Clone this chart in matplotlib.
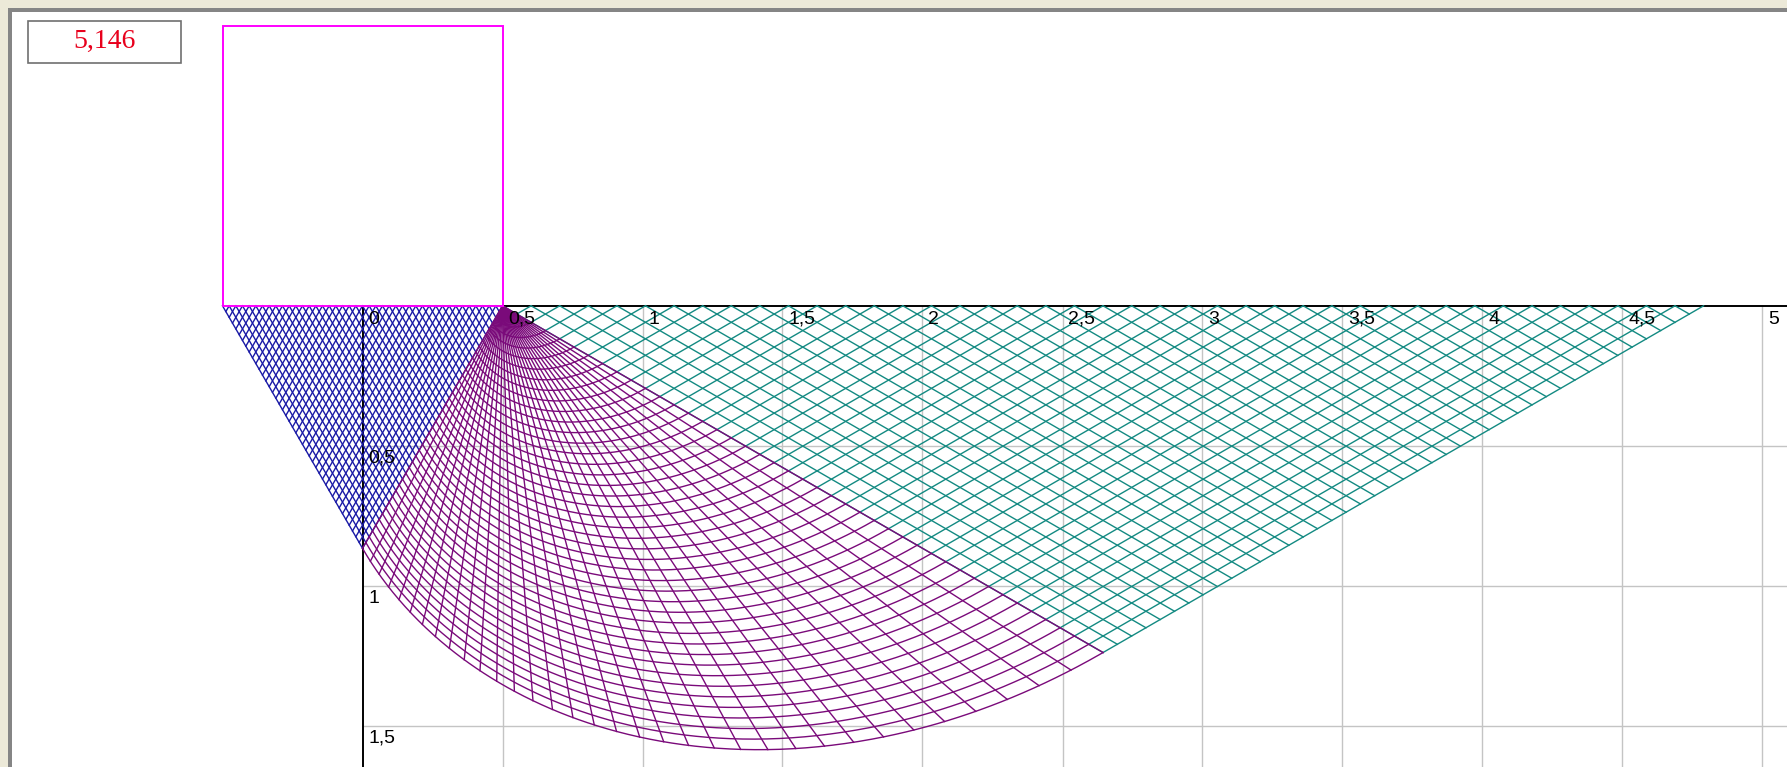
import numpy as np
import matplotlib.pyplot as plt
from matplotlib.patches import Rectangle

# soil and footing
PHI_DEG = 30.0
FOOTING_X = [-0.5, 0.5]      # footing edges
FOOTING_HEIGHT = 1.0
N_SLIP = 42                  # slip lines per family
N_RAYS = 34                  # fan sectors
RESULT_TEXT = "5,146"

x_ticks = [0, 0.5, 1, 1.5, 2, 2.5, 3, 3.5, 4, 4.5, 5]
x_tick_labels = ["0", "0,5", "1", "1,5", "2", "2,5", "3", "3,5", "4", "4,5", "5"]
y_ticks = [0.5, 1, 1.5]
y_tick_labels = ["0,5", "1", "1,5"]

C_ACTIVE = "#1a1aa6"
C_FAN = "#7a0a7a"
C_PASSIVE = "#138a82"
C_FOOT = "#ff00ff"
C_GRID = "#c4c4c4"
LW = 1.0

W, H = 1787, 767
SCALE = 280.0                # px per unit
X0, Y0 = 362.5, 305.8        # origin in px


def main():
    phi = np.radians(PHI_DEG)
    tphi = np.tan(phi)
    b = (FOOTING_X[1] - FOOTING_X[0]) / 2.0
    alpha = np.pi / 4 + phi / 2          # active wedge base angle
    beta = np.pi / 4 - phi / 2           # passive wedge base angle
    cx = FOOTING_X[1]                    # fan centre at footing edge
    r0 = b / np.cos(alpha)
    r1 = r0 * np.exp(np.pi / 2 * tphi)
    a0 = np.pi - alpha                   # first ray direction (y down)
    x_end = cx + 2 * r1 * np.cos(beta)   # passive wedge reaches surface

    fig = plt.figure(figsize=(W / 100, H / 100), dpi=100, facecolor="#ece9d8")
    ax = fig.add_axes([0, 0, 1, 1])
    ax.set_xlim(-X0 / SCALE, (W - X0) / SCALE)
    ax.set_ylim((H - Y0) / SCALE, -Y0 / SCALE)
    ax.axis("off")

    # window frame
    ax.add_patch(Rectangle((12 / W, 0), 1, 1 - 12 / H, transform=ax.transAxes,
                           facecolor="white", edgecolor="none", zorder=0))
    ax.add_patch(Rectangle((8 / W, 0), 4 / W, 1 - 8 / H, transform=ax.transAxes,
                           facecolor="#858585", edgecolor="none", zorder=0.5))
    ax.add_patch(Rectangle((8 / W, 1 - 12 / H), 1, 4 / H, transform=ax.transAxes,
                           facecolor="#858585", edgecolor="none", zorder=0.5))

    xmax = (W - X0) / SCALE
    ymax = (H - Y0) / SCALE

    # grid
    for xv in x_ticks[1:]:
        ax.plot([xv, xv], [0, ymax], color=C_GRID, lw=1.0, zorder=1)
    for yv in y_ticks:
        ax.plot([0, xmax], [yv, yv], color=C_GRID, lw=1.0, zorder=1)
    ax.plot([0, xmax], [0, 0], color="black", lw=1.4, zorder=1.5)
    ax.plot([0, 0], [0, ymax], color="black", lw=1.4, zorder=1.5)

    # active (Rankine) wedge under the footing
    ca, sa = np.cos(alpha), np.sin(alpha)
    for k in range(N_SLIP + 1):
        xs = FOOTING_X[1] - k * 2 * b / N_SLIP
        # down-left, parallel to the fan's first ray
        v = (xs - FOOTING_X[0]) / (2 * ca)
        ax.plot([xs, xs - v * ca], [0, v * sa], color=C_ACTIVE, lw=LW, zorder=2)
        # down-right, parallel to the outer wedge side
        v = (FOOTING_X[1] - xs) / (2 * ca)
        ax.plot([xs, xs + v * ca], [0, v * sa], color=C_ACTIVE, lw=LW, zorder=2)

    # radial shear fan
    th = np.linspace(0, np.pi / 2, 300)
    rr = r0 * np.exp(th * tphi)
    ang = a0 - th
    for i in range(N_RAYS + 1):
        t = np.pi / 2 * i / N_RAYS
        r = r0 * np.exp(t * tphi)
        ax.plot([cx, cx + r * np.cos(a0 - t)], [0, r * np.sin(a0 - t)],
                color=C_FAN, lw=LW, zorder=3)
    for k in range(1, N_SLIP + 1):
        s = k / N_SLIP
        ax.plot(cx + s * rr * np.cos(ang), s * rr * np.sin(ang),
                color=C_FAN, lw=LW, zorder=3)

    # passive wedge
    for k in range(1, N_SLIP + 1):
        s = k / N_SLIP
        qx = cx + s * r1 * np.cos(beta)
        qy = s * r1 * np.sin(beta)
        ax.plot([qx, qx + qy / np.tan(beta)], [qy, 0],
                color=C_PASSIVE, lw=LW, zorder=2.5)
    for k in range(0, N_SLIP + 1):
        xb = cx + 2 * r1 * np.cos(beta) * k / N_SLIP
        v = (x_end - xb) / (2 * np.cos(beta))
        ax.plot([xb, xb + v * np.cos(beta)], [0, v * np.sin(beta)],
                color=C_PASSIVE, lw=LW, zorder=2.5)

    # footing
    ax.add_patch(Rectangle((FOOTING_X[0], -FOOTING_HEIGHT), 2 * b, FOOTING_HEIGHT,
                           facecolor="none", edgecolor=C_FOOT, lw=1.4, zorder=4))

    # axis labels
    for xv, lab in zip(x_ticks, x_tick_labels):
        ax.annotate(lab, (xv, 0), xytext=(4.0, -3.4), textcoords="offset points",
                    ha="left", va="top", fontsize=14, family="Liberation Sans",
                    zorder=5)
    for yv, lab in zip(y_ticks, y_tick_labels):
        ax.annotate(lab, (0, yv), xytext=(4.0, -3.0), textcoords="offset points",
                    ha="left", va="top", fontsize=14, family="Liberation Sans",
                    zorder=5)

    # result box
    ax.add_patch(Rectangle((28 / W, 1 - 63 / H), 153 / W, 42 / H, transform=ax.transAxes,
                           facecolor="white", edgecolor="#707070", lw=1.2, zorder=5))
    ax.text(104.5 / W, 1 - 41 / H, RESULT_TEXT, transform=ax.transAxes,
            ha="center", va="center", fontsize=20, family="Liberation Serif",
            color="#e8001c", zorder=6)

    fig.savefig("out.png", dpi=100, facecolor=fig.get_facecolor())
    plt.close(fig)


if __name__ == "__main__":
    main()
